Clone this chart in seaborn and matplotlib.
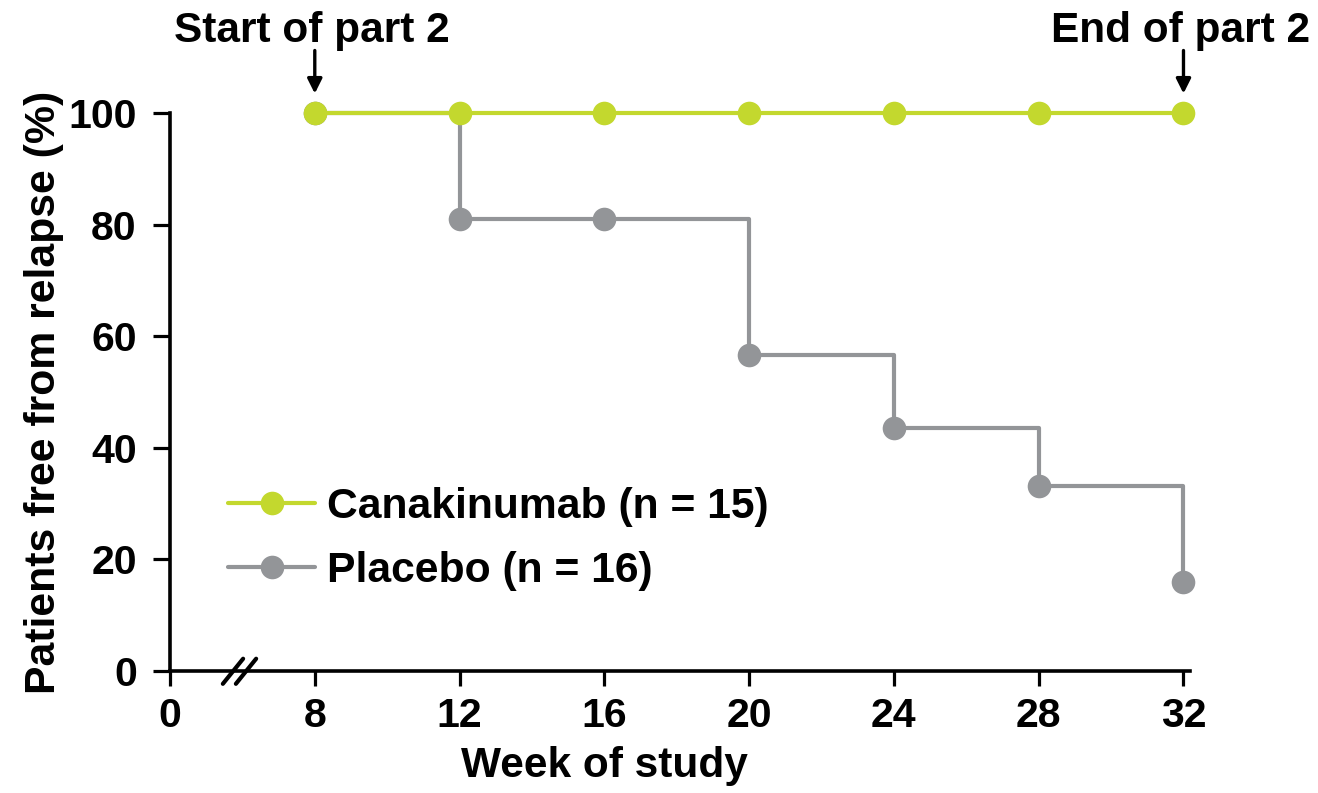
import matplotlib
matplotlib.use("Agg")
import matplotlib.pyplot as plt
import seaborn as sns
import pandas as pd

# Kaplan-Meier style data: proportion of patients free from relapse
weeks = [8, 12, 16, 20, 24, 28, 32]
canakinumab = [100, 100, 100, 100, 100, 100, 100]
placebo = [100, 81.0, 81.0, 56.6, 43.6, 33.1, 16.0]

series_names = ["Canakinumab (n = 15)", "Placebo (n = 16)"]
series_colors = ["#C3D82E", "#939598"]

tick_weeks = [0, 8, 12, 16, 20, 24, 28, 32]
y_ticks = [0, 20, 40, 60, 80, 100]

# week 0 sits just before the axis break, one 4-week step left of week 8
tick_positions = [4 if w == 0 else w for w in tick_weeks]

df = pd.concat([
    pd.DataFrame({"week": weeks, "pct": placebo, "group": series_names[1]}),
    pd.DataFrame({"week": weeks, "pct": canakinumab, "group": series_names[0]}),
])

sns.set_theme(style="ticks")
plt.rcParams["font.family"] = ["Liberation Sans", "DejaVu Sans"]
plt.rcParams["font.weight"] = "bold"
plt.rcParams["axes.labelweight"] = "bold"
plt.rcParams["text.color"] = "black"
plt.rcParams["axes.labelcolor"] = "black"

fig = plt.figure(figsize=(13.18, 7.93), dpi=100)
ax = fig.add_axes([170 / 1318, 122 / 793, 1020 / 1318, 558 / 793])

# draw placebo first so the canakinumab curve sits on top
for name, color in [(series_names[1], series_colors[1]), (series_names[0], series_colors[0])]:
    sub = df[df["group"] == name]
    sns.lineplot(data=sub, x="week", y="pct", ax=ax, color=color, label=name,
                 drawstyle="steps-post", marker="o", markersize=17,
                 markeredgewidth=0, linewidth=3.0, clip_on=False)

ax.set_xlim(4, 32.18)
ax.set_ylim(0, 100)
ax.set_xticks(tick_positions)
ax.set_xticklabels([str(w) for w in tick_weeks])
ax.set_yticks(y_ticks)
ax.set_yticklabels([str(v) for v in y_ticks])

for side in ["top", "right"]:
    ax.spines[side].set_visible(False)
for side in ["left", "bottom"]:
    ax.spines[side].set_linewidth(2.6)
    ax.spines[side].set_color("black")

ax.tick_params(axis="x", length=11, width=2.3, pad=8, labelsize=29.5, colors="black")
ax.tick_params(axis="y", length=12, width=2.3, pad=12, labelsize=29.5, colors="black")
for lab in ax.get_xticklabels() + ax.get_yticklabels():
    lab.set_fontweight("bold")

ax.set_xlabel("Week of study", fontsize=30.5, fontweight="bold", color="black")
ax.set_ylabel("Patients free from relapse (%)", fontsize=30.8, fontweight="bold",
              color="black", va="center")
ax.xaxis.set_label_coords(0.426, -0.135)
ax.yaxis.set_label_coords(-0.124, 0.5)

# axis break marks between week 0 and week 8
for x0 in (5.46, 5.82):
    ax.plot([x0, x0 + 0.56], [-2.3, 2.2], color="black", lw=3.0,
            solid_capstyle="round", clip_on=False, zorder=5)

# part 2 start / end callouts
for wk, txt in [(8, "Start of part 2"), (32, "End of part 2")]:
    ax.annotate("", xy=(wk, 100), xytext=(0, 45), textcoords="offset points",
                arrowprops=dict(arrowstyle="-|>", color="black", lw=2.4,
                                shrinkA=0, shrinkB=14, mutation_scale=22))
    ax.annotate(txt, xy=(wk, 100), xytext=(-2, 51), textcoords="offset points",
                ha="center", va="baseline", fontsize=30.5, fontweight="bold",
                color="black", annotation_clip=False)

# legend with canakinumab listed first
handles, labels = ax.get_legend_handles_labels()
order = [labels.index(series_names[0]), labels.index(series_names[1])]
leg = ax.legend([handles[i] for i in order], [labels[i] for i in order],
                loc="center left", bbox_to_anchor=(228 / 1318, 1 - 539 / 793),
                bbox_transform=fig.transFigure, frameon=False,
                prop={"size": 30.7, "weight": "bold"},
                handlelength=2.05, handletextpad=0.28, labelspacing=0.58,
                borderpad=0, borderaxespad=0)
for t in leg.get_texts():
    t.set_color("black")

fig.savefig("out.png", dpi=100)
